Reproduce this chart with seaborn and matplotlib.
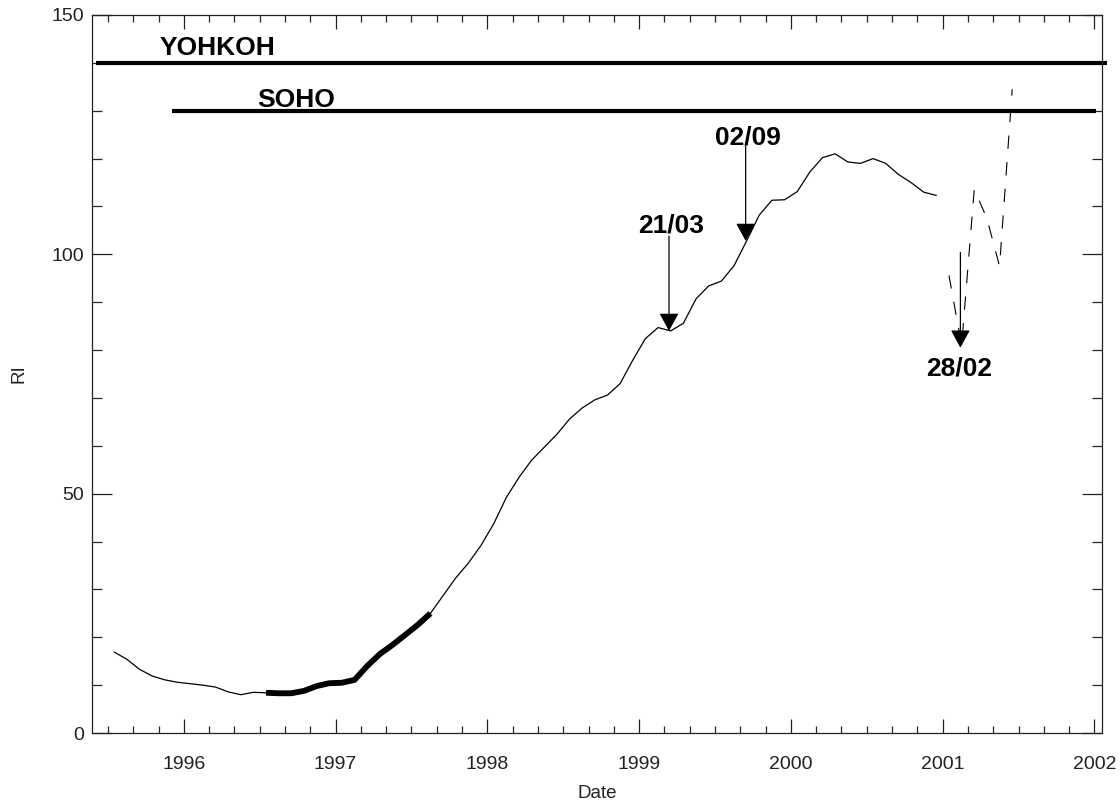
import numpy as np
import pandas as pd
import matplotlib
matplotlib.use("Agg")
import matplotlib.pyplot as plt
import seaborn as sns

# ---------------- data ----------------
# monthly smoothed index, Jul 1995 .. Dec 2000 (solid line)
solid_start = "1995-07"
solid_values = [
    16.9, 15.4, 13.3, 11.9, 11.1, 10.6,                                   # 1995 Jul-Dec
    10.3, 10.0, 9.6, 8.6, 8.0, 8.5, 8.4, 8.3, 8.3, 8.8, 9.8, 10.4,        # 1996
    10.5, 11.1, 14.0, 16.5, 18.4, 20.5, 22.6, 25.0, 28.7, 32.4, 35.5, 39.2,  # 1997
    43.7, 49.2, 53.4, 57.0, 59.7, 62.4, 65.6, 67.9, 69.6, 70.6, 73.0, 77.9,  # 1998
    82.4, 84.7, 84.0, 85.6, 90.7, 93.4, 94.4, 97.6, 102.8, 108.2, 111.3, 111.4,  # 1999
    113.1, 117.2, 120.2, 121.0, 119.3, 119.0, 120.0, 119.0, 116.7, 115.0, 113.0, 112.3,  # 2000
]
# thick highlighted period
thick_start, thick_end = "1996-07", "1997-08"
# monthly values Jan..Jun 2001 (dashed line)
dashed_start = "2001-01"
dashed_values = [95.6, 81.0, 113.6, 107.5, 97.5, 134.5]

# mission bars
missions = ["YOHKOH", "SOHO"]
mission_level = [140, 130]
mission_from = [1995.42, 1995.92]
mission_to = [2002.08, 2002.01]
mission_label_x = [1996.224, 1996.74]
mission_label_y = [141.6, 130.75]

# event arrows
events = ["21/03", "02/09", "28/02"]
event_x = [1999.197, 1999.702, 2001.117]
event_from = [103.8, 122.7, 100.4]
event_tip = [84.0, 102.8, 80.5]
event_label_x = [1999.21, 1999.72, 2001.11]
event_label_y = [104.6, 122.9, 74.7]

x_ticks = [1996, 1997, 1998, 1999, 2000, 2001, 2002]
y_ticks = [0, 50, 100, 150]


def to_decimal(start, n):
    d = pd.date_range(start=start, periods=n, freq="MS")
    return d.year + (d.month - 0.5) / 12.0


solid = pd.DataFrame({"date": to_decimal(solid_start, len(solid_values)),
                      "RI": solid_values})
dates_all = pd.date_range(start=solid_start, periods=len(solid_values), freq="MS")
mask = (dates_all >= pd.Timestamp(thick_start)) & (dates_all <= pd.Timestamp(thick_end))
thick = solid[mask]
dashed = pd.DataFrame({"date": to_decimal(dashed_start, len(dashed_values)),
                       "RI": dashed_values})

# ---------------- style ----------------
sns.set_theme(style="ticks")
plt.rcParams["font.family"] = ["Liberation Sans", "DejaVu Sans"]
plt.rcParams["axes.linewidth"] = 0.9
plt.rcParams["axes.edgecolor"] = "#222222"

fig = plt.figure(figsize=(11.2, 8.01), dpi=100)
ax = fig.add_axes([92 / 1120, 68 / 801, 1010 / 1120, 718 / 801])

sns.lineplot(data=solid, x="date", y="RI", color="black", lw=0.9, ax=ax, sort=False)
sns.lineplot(data=thick, x="date", y="RI", color="black", lw=4.2, ax=ax, sort=False,
             solid_capstyle="butt")
sns.lineplot(data=dashed, x="date", y="RI", color="black", lw=0.8, ax=ax, sort=False,
             linestyle=(0, (12, 12)))

for name, lev, x0, x1, lx, ly in zip(missions, mission_level, mission_from, mission_to,
                                      mission_label_x, mission_label_y):
    ax.plot([x0, x1], [lev, lev], color="black", lw=3.0, clip_on=False,
            solid_capstyle="butt")
    ax.text(lx, ly, name, ha="center", va="baseline", fontsize=19,
            fontweight="bold", color="black")

for name, ex, y0, y1, lx, ly in zip(events, event_x, event_from, event_tip,
                                     event_label_x, event_label_y):
    ax.annotate("", xy=(ex, y1), xytext=(ex, y0),
                arrowprops=dict(arrowstyle="-|>,head_length=0.55,head_width=0.3",
                                color="black", lw=0.9, shrinkA=0, shrinkB=0,
                                mutation_scale=20))
    ax.text(lx, ly, name, ha="center", va="baseline", fontsize=19,
            fontweight="bold", color="black")

ax.set_xlim(1995.395, 2002.05)
ax.set_ylim(0, 150)
ax.set_xticks(x_ticks)
ax.set_xticklabels([str(t) for t in x_ticks])
ax.set_xticks(np.arange(1995.5, 2002.05, 1 / 6), minor=True)
ax.set_yticks(y_ticks)
ax.set_yticklabels([str(t) for t in y_ticks])
ax.set_yticks(np.arange(0, 151, 10), minor=True)

ax.tick_params(axis="x", which="major", direction="in", length=10, width=0.9,
               top=True, bottom=True, pad=16.5, labelsize=14, colors="#222222")
ax.tick_params(axis="x", which="minor", direction="in", length=5, width=0.9,
               top=True, bottom=True)
ax.tick_params(axis="y", which="major", direction="in", length=14.4, width=0.9,
               left=True, right=True, pad=6, labelsize=14, colors="#222222")
ax.tick_params(axis="y", which="minor", direction="in", length=7.2, width=0.9,
               left=True, right=True)

ax.set_xlabel("Date", fontsize=13.5, color="#222222", labelpad=9)
ax.set_ylabel("RI", fontsize=13.5, color="#222222", labelpad=17)
for s in ax.spines.values():
    s.set_visible(True)

fig.savefig("out.png", dpi=100)
